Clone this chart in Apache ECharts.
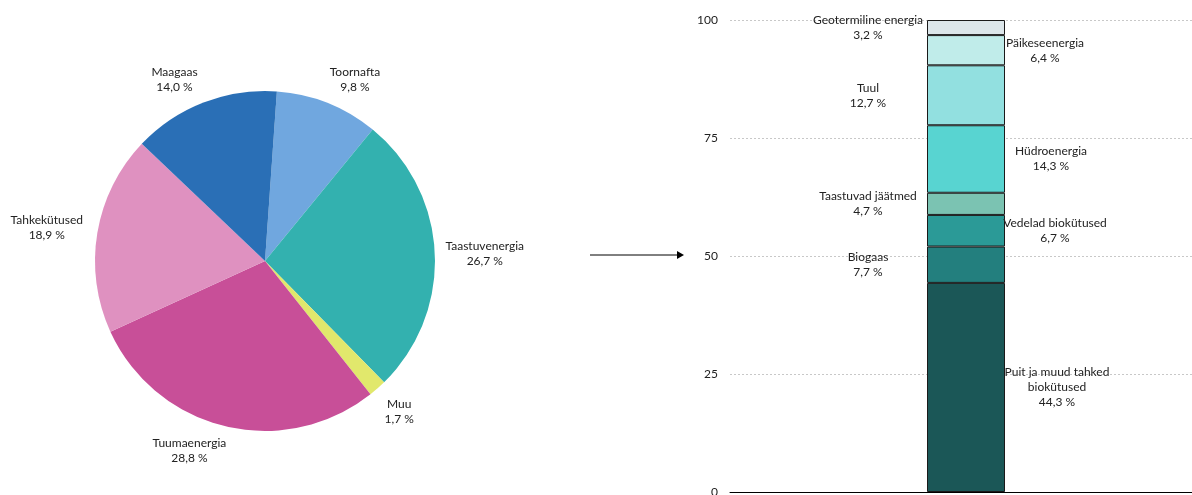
<!DOCTYPE html>
<html>
<head>
<meta charset="utf-8">
<script src="https://cdn.jsdelivr.net/npm/echarts@6/dist/echarts.min.js"></script>
<style>
  html, body { margin: 0; padding: 0; background: #fff; }
  #chart { width: 1192px; height: 495px; }
</style>
</head>
<body>
<div id="chart"></div>
<script>
// Energy mix (left) and breakdown of renewable energy (right), %
const pieNames = ['Toornafta', 'Taastuvenergia', 'Muu', 'Tuumaenergia', 'Tahkekütused', 'Maagaas'];
const pieValues = [9.8, 26.7, 1.7, 28.8, 18.9, 14.0];
const pieColors = ['#70a7df', '#33b1af', '#e1e86c', '#c84f98', '#df91c0', '#2a6fb6'];

const barNames = ['Puit ja muud tahked\nbiokütused', 'Biogaas', 'Vedelad biokütused', 'Taastuvad jäätmed',
                  'Hüdroenergia', 'Tuul', 'Päikeseenergia', 'Geotermiline energia'];
const barValues = [44.3, 7.7, 6.7, 4.7, 14.3, 12.7, 6.4, 3.2];
const barColors = ['#1b5757', '#237f7e', '#2b9a97', '#7bc3b2', '#58d4d1', '#92e0e0', '#c0ecea', '#dce6ea'];
const barLabelSide = ['right', 'left', 'right', 'left', 'right', 'left', 'right', 'left'];
const barLabelGap = [52, 59, 50, 59, 46, 59, 40, 59];

const yTicks = [0, 25, 50, 75, 100];

const FONT = 'Lato';
const fmt = v => v.toFixed(1).replace('.', ',') + ' %';

// Pie geometry
const pieCenter = [265, 261];
const pieRadius = 170;
const pieStart = 86;
const labelRadius = 203;
const labelNudge = [[15, 7], [17, 2], [0, -2], [-28, -8], [-18, 0], [-17, 8]];

const total = pieValues.reduce((a, b) => a + b, 0);
const midAngles = [];
{
  let acc = 0;
  pieValues.forEach(v => {
    const mid = acc + v / 2;
    midAngles.push((pieStart - mid / total * 360) * Math.PI / 180);
    acc += v;
  });
}

const chart = echarts.init(document.getElementById('chart'), null, { renderer: 'canvas' });

const barSeries = barValues.map((v, i) => ({
  type: 'bar',
  name: barNames[i],
  stack: 'total',
  xAxisIndex: 0,
  yAxisIndex: 0,
  barWidth: 78,
  data: [v],
  itemStyle: { color: barColors[i], borderColor: '#1a1a1a', borderWidth: 1 },
  label: {
    show: true,
    position: barLabelSide[i],
    distance: barLabelGap[i],
    align: 'center',
    verticalAlign: 'middle',
    fontFamily: FONT,
    fontSize: 12,
    lineHeight: 15,
    color: '#222',
    formatter: () => barNames[i] + '\n' + fmt(v)
  },
  emphasis: { disabled: true }
}));

chart.setOption({
  animation: false,
  textStyle: { fontFamily: FONT },
  grid: { left: 730, right: -10, top: 20, bottom: 3, outerBoundsMode: 'none', containLabel: false },
  xAxis: {
    type: 'category',
    data: [''],
    axisLine: { show: true, lineStyle: { color: '#000', width: 1 } },
    axisTick: { show: false },
    axisLabel: { show: false }
  },
  yAxis: {
    type: 'value',
    min: yTicks[0],
    max: yTicks[yTicks.length - 1],
    interval: 25,
    axisLine: { show: false },
    axisTick: { show: false },
    axisLabel: { fontFamily: FONT, fontSize: 12, color: '#222', margin: 12 },
    splitLine: { lineStyle: { color: '#c8c8c8', type: [2, 2], width: 1 } }
  },
  series: [
    {
      type: 'pie',
      center: pieCenter,
      radius: pieRadius,
      startAngle: pieStart,
      clockwise: true,
      data: pieNames.map((n, i) => ({ name: n, value: pieValues[i], itemStyle: { color: pieColors[i] } })),
      label: {
        show: true,
        position: 'outside',
        overflow: 'none',
        fontFamily: FONT,
        fontSize: 12,
        lineHeight: 15,
        color: '#222',
        align: 'center',
        formatter: p => p.name + '\n' + fmt(p.value)
      },
      labelLine: { show: false },
      labelLayout: p => {
        const i = p.dataIndex;
        const a = midAngles[i];
        return {
          x: pieCenter[0] + labelRadius * Math.cos(a) + labelNudge[i][0],
          y: pieCenter[1] - labelRadius * Math.sin(a) + labelNudge[i][1],
          align: 'center',
          verticalAlign: 'middle'
        };
      },
      emphasis: { disabled: true }
    },
    ...barSeries
  ],
  graphic: [
    { type: 'line', shape: { x1: 590, y1: 255, x2: 678, y2: 255 }, style: { stroke: '#000', lineWidth: 1 } },
    { type: 'polygon', shape: { points: [[677, 251], [684, 255], [677, 259]] }, style: { fill: '#000' } }
  ]
});
</script>
</body>
</html>
